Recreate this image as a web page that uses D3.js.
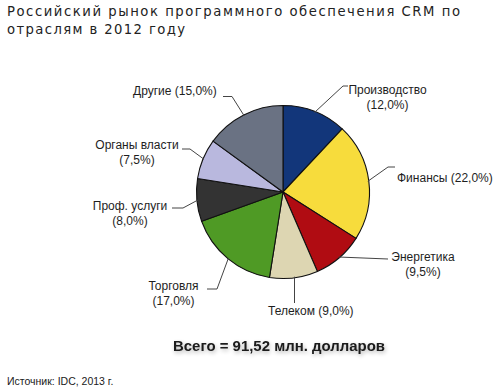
<!DOCTYPE html>
<html>
<head>
<meta charset="utf-8">
<script src="https://cdn.jsdelivr.net/npm/d3@7"></script>
<style>
  html, body { margin: 0; padding: 0; background: #fff; }
  svg { display: block; }
</style>
</head>
<body>
<svg id="chart" width="500" height="392"></svg>
<script>
// ---- data ----
const titleLines = ["Российский рынок программного обеспечения CRM по", "отраслям в 2012 году"];
const categories = ["Производство", "Финансы", "Энергетика", "Телеком", "Торговля", "Проф. услуги", "Органы власти", "Другие"];
const values = [12.0, 22.0, 9.5, 9.0, 17.0, 8.0, 7.5, 15.0];
const colors = ["#12367a", "#f7dc3c", "#b00c12", "#ddd6b2", "#4f9a25", "#333333", "#b9b8de", "#6a7283"];
const totalText = "Всего = 91,52 млн. долларов";
const sourceText = "Источник: IDC, 2013 г.";

// label layout: annotation placement
const labelLayout = [
  { lines: ["Производство", "(12,0%)"], x: 387.5, y: 94, anchor: "middle", leader: [[343, 86], [348, 86]] },
  { lines: ["Финансы (22,0%)"], x: 397, y: 182, anchor: "start", leader: [[388, 167], [395, 167]] },
  { lines: ["Энергетика", "(9,5%)"], x: 423, y: 261, anchor: "middle", leader: [[388, 259]] },
  { lines: ["Телеком (9,0%)"], x: 268, y: 315, anchor: "start", leader: [[294.5, 303]], vertical: true },
  { lines: ["Торговля", "(17,0%)"], x: 173.5, y: 290, anchor: "middle", leader: [[217, 289], [207, 289]] },
  { lines: ["Проф. услуги", "(8,0%)"], x: 130, y: 210, anchor: "middle", leader: [[183, 208], [172, 208]] },
  { lines: ["Органы власти", "(7,5%)"], x: 137, y: 149, anchor: "middle", leader: [[190, 149], [182, 149]] },
  { lines: ["Другие (15,0%)"], x: 133, y: 95, anchor: "start", leader: [[232, 96.5], [223, 96.5]] }
];

const svg = d3.select("#chart");
const cx = 283, cy = 192, r = 86.5;

// title
svg.append("g").selectAll("text").data(titleLines).join("text")
  .attr("x", 7).attr("y", (d, i) => 16 + i * 17.5)
  .attr("font-family", "DejaVu Sans, Verdana, sans-serif")
  .attr("font-size", 13.2)
  .attr("fill", "#222")
  .attr("textLength", (d, i) => i === 0 ? 453 : 178)
  .attr("lengthAdjust", "spacing")
  .text(d => d);

// pie
const pie = d3.pie().sort(null).value(d => d)(values);
const arc = d3.arc().innerRadius(0).outerRadius(r);
const g = svg.append("g").attr("transform", `translate(${cx},${cy})`);
g.selectAll("path").data(pie).join("path")
  .attr("d", arc)
  .attr("fill", (d, i) => colors[i])
  .attr("stroke", "#111")
  .attr("stroke-width", 1.1)
  .attr("stroke-linejoin", "round");

// leader lines & labels
pie.forEach((d, i) => {
  const L = labelLayout[i];
  const mid = (d.startAngle + d.endAngle) / 2;
  let ex = cx + (r - 1) * Math.sin(mid), ey = cy - (r - 1) * Math.cos(mid);
  if (L.vertical) { ex = L.leader[0][0]; ey = cy + Math.sqrt(r * r - (ex - cx) ** 2) - 1; }
  const pts = [[ex, ey]].concat(L.leader);
  svg.append("path")
    .attr("d", d3.line()(pts))
    .attr("fill", "none")
    .attr("stroke", "#444")
    .attr("stroke-width", 1);
  const t = svg.append("text")
    .attr("x", L.x).attr("y", L.y)
    .attr("text-anchor", L.anchor)
    .attr("font-family", "Liberation Sans, Arial, sans-serif")
    .attr("font-size", 12)
    .attr("fill", "#1e1e1e");
  L.lines.forEach((s, j) => {
    t.append("tspan").attr("x", L.x).attr("dy", j === 0 ? 0 : 15).text(s);
  });
});

// total
const defs = svg.append("defs");
const f = defs.append("filter").attr("id", "glow").attr("x", "-10%").attr("y", "-50%").attr("width", "120%").attr("height", "200%");
f.append("feGaussianBlur").attr("in", "SourceAlpha").attr("stdDeviation", 2).attr("result", "b");
f.append("feOffset").attr("in", "b").attr("dx", 1).attr("dy", 1.5).attr("result", "o");
f.append("feComponentTransfer").attr("in", "o").attr("result", "s")
  .append("feFuncA").attr("type", "linear").attr("slope", 0.3);
const fm = f.append("feMerge");
fm.append("feMergeNode").attr("in", "s");
fm.append("feMergeNode").attr("in", "SourceGraphic");

svg.append("text")
  .attr("x", 173).attr("y", 351)
  .attr("font-family", "Liberation Sans, Arial, sans-serif")
  .attr("font-weight", "bold")
  .attr("font-size", 14.5)
  .attr("fill", "#1a1a1a")
  .attr("textLength", 212)
  .attr("lengthAdjust", "spacingAndGlyphs")
  .attr("filter", "url(#glow)")
  .text(totalText);

// source
svg.append("text")
  .attr("x", 7).attr("y", 385)
  .attr("font-family", "Liberation Sans, Arial, sans-serif")
  .attr("font-size", 10.5)
  .attr("fill", "#1a1a1a")
  .text(sourceText);
</script>
</body>
</html>
